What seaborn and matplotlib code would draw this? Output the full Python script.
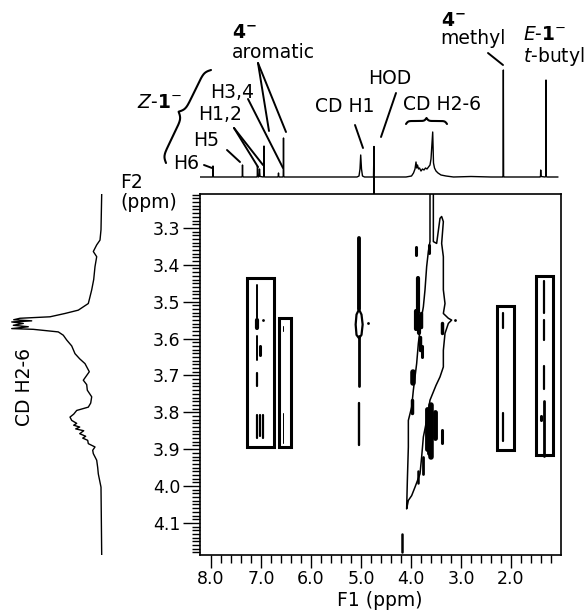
import numpy as np
import seaborn as sns
import matplotlib.pyplot as plt
from matplotlib.lines import Line2D
from matplotlib.patches import Rectangle

# 1D projection along F1 (top): (ppm, intensity)
top_trace = [(8.22, 0), (8.00, 0), (7.97, 0), (7.965, 0.5), (7.96, 11), (7.955, 0.5), (7.945, 0),
             (7.60, 0), (7.385, 0), (7.375, 0.5), (7.37, 12), (7.365, 0.5), (7.355, 0),
             (7.20, 0), (7.085, 0), (7.075, 0.5), (7.07, 11), (7.065, 0.5), (7.05, 0),
             (7.04, 0.5), (7.03, 8), (7.02, 0.5), (6.955, 0), (6.945, 0.5), (6.94, 31),
             (6.935, 0.5), (6.925, 0), (6.90, 0), (6.665, 0), (6.655, 0.5), (6.65, 4),
             (6.645, 0.5), (6.635, 0), (6.565, 0), (6.555, 0.5), (6.55, 39), (6.545, 0.5),
             (6.535, 0), (6.30, 0), (5.08, 0), (5.04, 1), (5.02, 8), (5.006, 22), (4.99, 8),
             (4.97, 1), (4.93, 0), (4.75, 0), (4.74, 30.5), (4.74, -17), (4.74, 0), (4.73, 0),
             (4.10, 0), (3.99, 1), (3.95, 4), (3.92, 8), (3.90, 15), (3.886, 9), (3.87, 12),
             (3.85, 8), (3.83, 9), (3.80, 6), (3.77, 8), (3.74, 7), (3.71, 9), (3.68, 8),
             (3.65, 10), (3.62, 12), (3.60, 18), (3.566, 45), (3.55, 14), (3.53, 9),
             (3.50, 6), (3.46, 4), (3.40, 2), (3.30, 1), (3.15, 0), (2.80, 0.5), (2.40, 0),
             (2.165, 0), (2.158, 0.5), (2.153, 107), (2.148, 0.5), (2.14, 0), (1.60, 0),
             (1.42, 0), (1.41, 0.5), (1.406, 7), (1.40, 0.5), (1.32, 0), (1.305, 0.5),
             (1.30, 97), (1.295, 0.5), (1.28, 0), (1.06, 0)]

# 1D projection along F2 (left): (ppm, intensity)
left_trace = [(3.208, 0), (3.305, 0.7), (3.333, 1.7), (3.346, 5), (3.364, 8.4), (3.378, 5),
              (3.405, 6.7), (3.44, 8), (3.468, 10), (3.49, 12), (3.505, 13.4), (3.523, 23.4),
              (3.532, 36.7), (3.541, 51.7), (3.545, 81.7), (3.549, 88), (3.552, 70),
              (3.555, 90), (3.559, 78.4), (3.564, 88.4), (3.568, 73.4), (3.573, 90),
              (3.575, 68.4), (3.582, 43.4), (3.591, 38.4), (3.604, 35), (3.62, 30),
              (3.641, 26.7), (3.655, 22), (3.668, 16.7), (3.69, 12.4), (3.70, 15),
              (3.713, 18.4), (3.725, 15), (3.74, 14.4), (3.758, 10), (3.775, 11),
              (3.786, 13.4), (3.795, 25), (3.805, 28), (3.813, 31.7), (3.822, 30),
              (3.83, 25), (3.835, 28), (3.84, 22), (3.845, 26), (3.85, 18), (3.858, 22),
              (3.865, 16), (3.87, 19), (3.876, 14), (3.885, 13.4), (3.894, 6.7),
              (3.903, 9), (3.912, 8.4), (3.93, 5), (3.95, 4), (3.967, 3.4), (4.003, 0.7),
              (4.187, 0)]

# outer contour of the CD diagonal region: (F1, F2)
diag_outline = [(3.62, 3.208), (3.62, 3.337), (3.653, 3.364), (3.687, 3.405), (3.72, 3.468),
                (3.753, 3.514), (3.787, 3.541), (3.82, 3.577), (3.853, 3.613), (3.887, 3.668),
                (3.92, 3.704), (3.953, 3.740), (3.987, 3.786), (4.053, 3.822), (4.053, 3.894),
                (4.073, 3.985), (4.087, 4.062), (4.053, 4.039), (3.987, 4.026), (3.92, 4.003),
                (3.82, 3.967), (3.787, 3.921), (3.753, 3.867), (3.687, 3.822), (3.62, 3.767),
                (3.50, 3.727), (3.42, 3.704), (3.353, 3.677), (3.353, 3.632), (3.32, 3.586),
                (3.253, 3.559), (3.187, 3.55), (3.253, 3.545), (3.353, 3.532), (3.32, 3.505),
                (3.353, 3.468), (3.353, 3.378), (3.387, 3.342), (3.353, 3.283), (3.387, 3.269),
                (3.42, 3.274), (3.487, 3.342), (3.553, 3.337), (3.553, 3.208)]

# contour loop of the CD H1 cross peak
h1_loop = [(5.04, 3.521), (5.09, 3.535), (5.107, 3.562), (5.09, 3.59), (5.04, 3.599),
           (4.99, 3.59), (4.967, 3.562), (4.99, 3.535), (5.04, 3.521)]

# cross peaks: F1, F2 start, F2 end, weight
peak_f1 = [7.087, 7.087, 7.087, 7.087, 7.087, 7.02, 7.02, 6.953, 6.553, 6.553,
           2.167, 2.167, 1.333, 1.333, 1.333, 1.333, 1.407,
           5.04, 5.04, 5.04,
           3.90, 3.633, 3.853, 3.90, 3.80, 3.84, 3.82, 3.79, 3.387, 3.953, 3.987,
           3.68, 3.60, 3.52, 3.64, 3.387, 3.753, 3.853, 4.173]
peak_f2a = [3.456, 3.549, 3.594, 3.693, 3.806, 3.621, 3.806, 3.806, 3.567, 3.802,
            3.531, 3.802, 3.445, 3.549, 3.675, 3.77, 3.81,
            3.327, 3.594, 3.775,
            3.351, 3.346, 3.437, 3.525, 3.53, 3.54, 3.595, 3.62, 3.558, 3.69, 3.767,
            3.79, 3.78, 3.80, 3.83, 3.849, 3.921, 3.958, 4.129]
peak_f2b = [3.544, 3.571, 3.657, 3.729, 3.870, 3.644, 3.865, 3.87, 3.58, 3.883,
            3.571, 3.879, 3.531, 3.603, 3.738, 3.919, 3.82,
            3.521, 3.729, 3.888,
            3.373, 3.369, 3.532, 3.575, 3.57, 3.585, 3.632, 3.65, 3.586, 3.72, 3.803,
            3.90, 3.92, 3.87, 3.91, 3.884, 3.966, 3.993, 4.18]
peak_w = [1.4, 3.0, 1.4, 1.6, 1.6, 2.2, 1.6, 1.6, 0.7, 0.7,
          1.6, 1.6, 1.6, 1.6, 1.6, 2.0, 2.2,
          2.8, 2.0, 1.7,
          2.2, 2.2, 3.0, 3.0, 2.5, 3.0, 2.5, 2.2, 2.5, 4.0, 2.5,
          3.5, 4.0, 3.5, 3.5, 2.2, 2.0, 1.8, 1.8]

dot_f1 = [6.967, 4.87, 3.12]
dot_f2 = [3.549, 3.559, 3.55]

# highlighted regions: F1 left/right, F2 top/bottom
box_f1a = [7.287, 6.633, 2.273, 1.50]
box_f1b = [6.74, 6.407, 1.94, 1.167]
box_f2a = [3.437, 3.545, 3.511, 3.431]
box_f2b = [3.895, 3.895, 3.903, 3.917]

f1_ticks = [8.0, 7.0, 6.0, 5.0, 4.0, 3.0, 2.0]
f2_ticks = [3.3, 3.4, 3.5, 3.6, 3.7, 3.8, 3.9, 4.0, 4.1]

sns.set_style("white", {"text.color": "black", "xtick.color": "black",
                        "ytick.color": "black", "axes.labelcolor": "black",
                        "axes.edgecolor": "black"})
plt.rcParams['font.family'] = ['DejaVu Sans']
plt.rcParams['mathtext.fontset'] = 'dejavusans'

W, H = 585, 615
fig = plt.figure(figsize=(W / 100, H / 100), dpi=100)


def fx(x):
    return x / W


def fy(y):
    return 1 - y / H


ax = fig.add_axes([fx(200), fy(555), 361 / W, 361 / H])
ax_top = fig.add_axes([fx(200), fy(194), 361 / W, 144 / H])
ax_left = fig.add_axes([fx(5), fy(555), 105 / W, 361 / H])

XL = (8.22, 1.0)
YL = (4.187, 3.208)

# top projection
tp = np.array(top_trace)
sns.lineplot(x=tp[:, 0], y=tp[:, 1], sort=False, estimator=None, color='black', lw=1.0, ax=ax_top)
ax_top.set_xlim(*XL)
ax_top.set_ylim(-17, 127)
ax_top.set_axis_off()

# left projection
lp = np.array(left_trace)
sns.lineplot(x=lp[:, 1], y=lp[:, 0], orient='y', sort=False, estimator=None, color='black', lw=1.0, ax=ax_left)
ax_left.set_ylim(*YL)
ax_left.set_xlim(96.7, -8.3)
ax_left.set_axis_off()

# 2D map
do = np.array(diag_outline)
sns.lineplot(x=do[:, 0], y=do[:, 1], sort=False, estimator=None, color='black', lw=1.1, ax=ax)
hl = np.array(h1_loop)
sns.lineplot(x=hl[:, 0], y=hl[:, 1], sort=False, estimator=None, color='black', lw=1.6, ax=ax)
lc = ax.vlines(peak_f1, peak_f2a, peak_f2b, colors='black', linewidths=peak_w)
lc.set_capstyle('round')
sns.scatterplot(x=dot_f1, y=dot_f2, color='black', s=4, linewidth=0, ax=ax)
for a, b, c, d in zip(box_f1a, box_f1b, box_f2a, box_f2b):
    ax.add_patch(Rectangle((b, c), a - b, d - c, fill=False, lw=2.2, ec='black'))

ax.set_xlim(*XL)
ax.set_ylim(*YL)
ax.set_xticks(f1_ticks)
ax.set_xticklabels([f"{t:.1f}" for t in f1_ticks])
ax.set_xticks(np.round(np.arange(1.2, 8.01, 0.2), 2), minor=True)
ax.set_yticks(f2_ticks)
ax.set_yticklabels([f"{t:.1f}" for t in f2_ticks])
ax.set_yticks(np.round(np.arange(3.21, 4.185, 0.01), 3), minor=True)
ax.tick_params(axis='both', which='both', direction='out', width=1, labelsize=12.5,
               colors='black', top=False, right=False, bottom=True, left=True)
ax.tick_params(axis='x', which='major', length=9.5, pad=1)
ax.tick_params(axis='x', which='minor', length=5.5)
ax.tick_params(axis='y', which='major', length=12, pad=2)
ax.tick_params(axis='y', which='minor', length=6)
for s in ax.spines.values():
    s.set_linewidth(1.2)
    s.set_color('black')
ax.set_xlabel("")
ax.set_ylabel("")

# annotations (figure pixels)
FS = 13.5


def label(x, y, s, **kw):
    fig.text(fx(x), fy(y), s, fontsize=kw.pop('fontsize', FS), va='center',
             ha=kw.pop('ha', 'left'), color='black', **kw)


def seg(x0, y0, x1, y1, lw=1.4):
    fig.add_artist(Line2D([fx(x0), fx(x1)], [fy(y0), fy(y1)], color='black', lw=lw))


def brace(p0, p1, d, beta=40, lw=1.5):
    p0 = np.array(p0, float)
    p1 = np.array(p1, float)
    L = np.linalg.norm(p1 - p0)
    e = (p1 - p0) / L
    n = np.array([e[1], -e[0]])
    t = np.linspace(0, 0.5, 80)
    h = 1 / (1 + np.exp(-beta * t)) + 1 / (1 + np.exp(-beta * (t - 0.5))) - 0.5
    u = np.concatenate([t, 1 - t[::-1][1:]])
    hh = np.concatenate([h, h[::-1][1:]])
    pts = p0[None, :] + (u * L)[:, None] * e[None, :] + (hh * d)[:, None] * n[None, :]
    fig.add_artist(Line2D(fx(pts[:, 0]), fy(pts[:, 1]), color='black', lw=lw))


label(232, 33, r"$\mathbf{4}^{\mathbf{-}}$")
label(232, 52, "aromatic")
seg(258, 63, 269, 131)
seg(258, 63, 286, 132)
label(137, 103, r"$\mathit{Z}$-$\mathbf{1}^{-}$")
brace((166, 163), (211, 70), 11)
label(210, 92, "H3,4")
seg(248, 99, 283, 168)
label(198, 115, "H1,2")
seg(234, 128, 258, 167)
seg(234, 128, 263, 165)
label(193, 141, "H5")
seg(227, 150, 240, 162)
label(173, 164, "H6")
seg(204, 165, 212, 168)
label(315, 107, "CD H1")
seg(355, 125, 363, 148)
label(368, 78, "HOD")
seg(396, 93, 381, 137)
label(403, 105, "CD H2-6")
brace((406, 124), (447, 124), 6)
label(441, 20, r"$\mathbf{4}^{\mathbf{-}}$")
label(440, 38, "methyl")
seg(488, 53, 503, 65)
label(523, 34, r"$\mathit{E}$-$\mathbf{1}^{-}$")
label(523, 57, r"$\mathit{t}$-butyl")
label(120, 182, "F2")
label(120, 203, "(ppm)")
label(380, 601, "F1 (ppm)", ha='center')
fig.text(fx(25), fy(387), "CD H2-6", fontsize=FS, rotation=90, ha='center', va='center', color='black')

fig.savefig("out.png", dpi=100)
